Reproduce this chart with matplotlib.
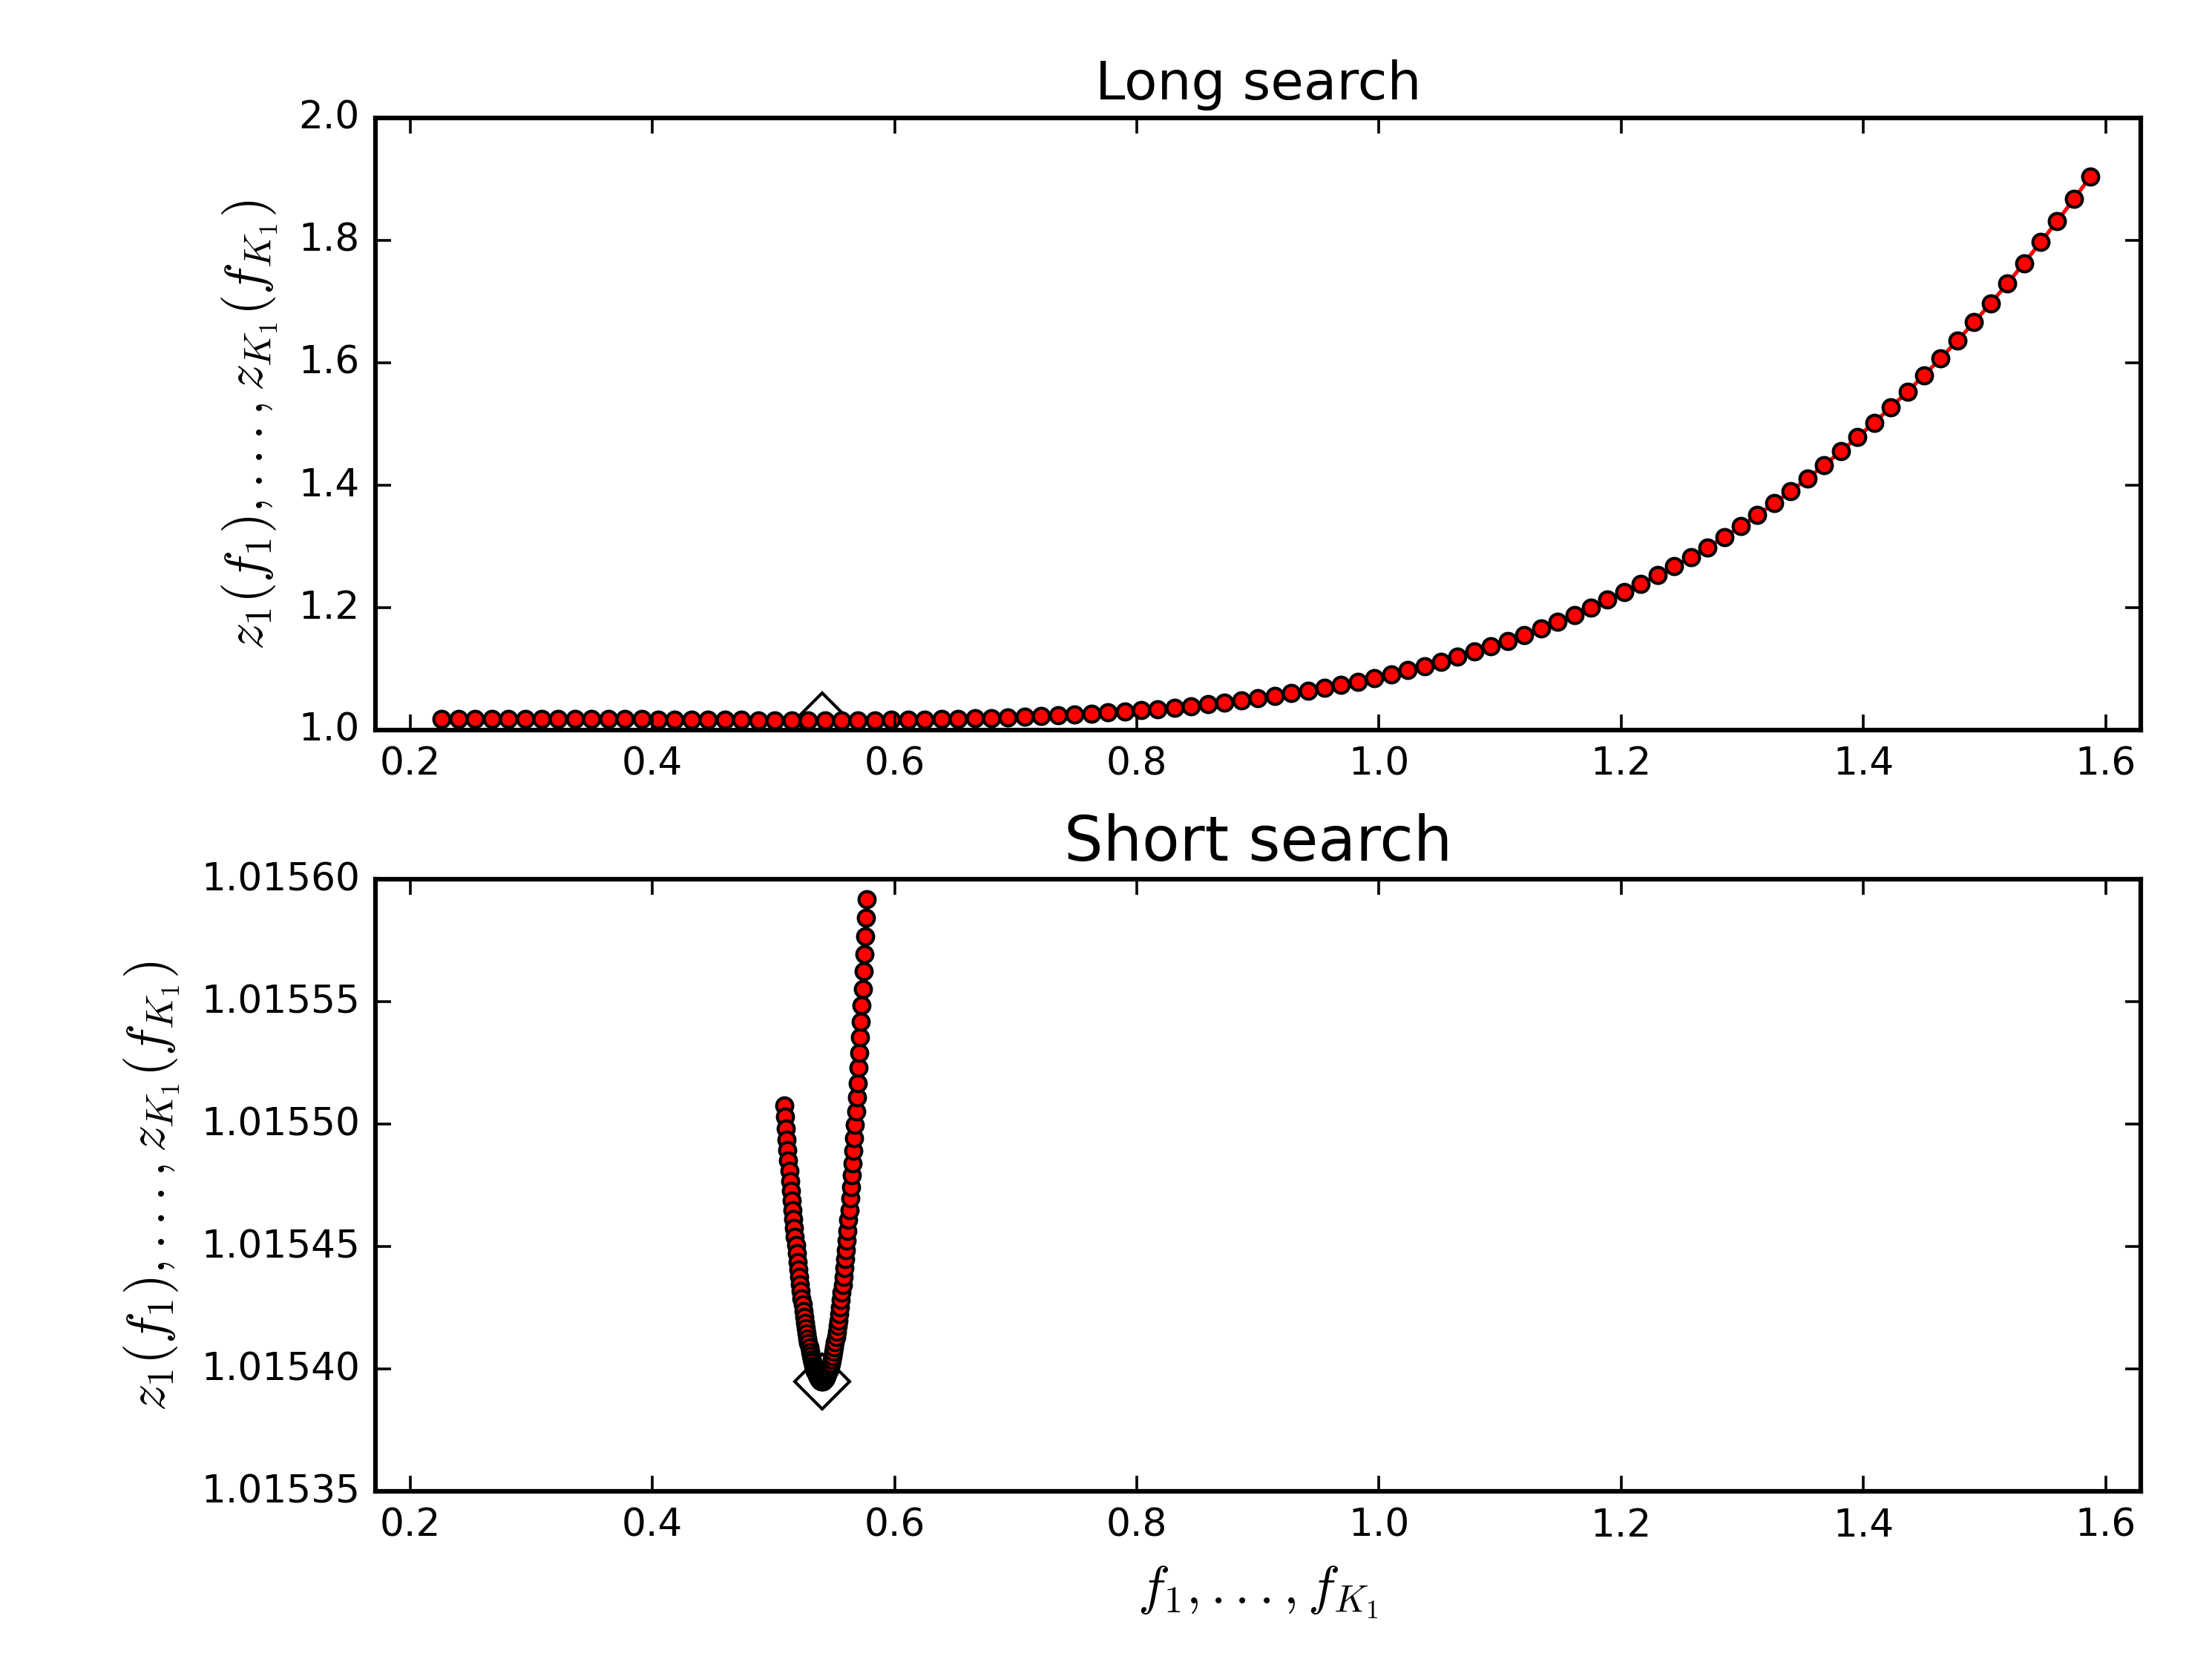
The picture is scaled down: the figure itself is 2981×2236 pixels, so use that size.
import matplotlib
matplotlib.use("Agg")
import matplotlib.pyplot as plt
from matplotlib.ticker import FormatStrFormatter

plt.style.use('classic')

# long search: frequency grid and values
long_f = [0.2260, 0.2398, 0.2535, 0.2673, 0.2810, 0.2948, 0.3085, 0.3223, 0.3360, 0.3498,
          0.3635, 0.3773, 0.3910, 0.4048, 0.4185, 0.4323, 0.4460, 0.4598, 0.4736, 0.4873,
          0.5011, 0.5148, 0.5286, 0.5423, 0.5561, 0.5698, 0.5836, 0.5973, 0.6111, 0.6248,
          0.6386, 0.6523, 0.6661, 0.6798, 0.6936, 0.7074, 0.7211, 0.7349, 0.7486, 0.7624,
          0.7761, 0.7899, 0.8036, 0.8174, 0.8311, 0.8449, 0.8586, 0.8724, 0.8861, 0.8999,
          0.9137, 0.9274, 0.9412, 0.9549, 0.9687, 0.9824, 0.9962, 1.0099, 1.0237, 1.0374,
          1.0512, 1.0649, 1.0787, 1.0924, 1.1062, 1.1199, 1.1337, 1.1475, 1.1612, 1.1750,
          1.1887, 1.2025, 1.2162, 1.2300, 1.2437, 1.2575, 1.2712, 1.2850, 1.2987, 1.3125,
          1.3262, 1.3400, 1.3538, 1.3675, 1.3813, 1.3950, 1.4088, 1.4225, 1.4363, 1.4500,
          1.4638, 1.4775, 1.4913, 1.5050, 1.5188, 1.5325, 1.5463, 1.5600, 1.5738, 1.5875]
long_z = [1.0180, 1.0180, 1.0179, 1.0179, 1.0178, 1.0177, 1.0177, 1.0176, 1.0175, 1.0174,
          1.0173, 1.0171, 1.0170, 1.0168, 1.0166, 1.0164, 1.0162, 1.0160, 1.0158, 1.0157,
          1.0156, 1.0155, 1.0154, 1.0154, 1.0154, 1.0155, 1.0157, 1.0159, 1.0162, 1.0166,
          1.0170, 1.0176, 1.0183, 1.0190, 1.0199, 1.0209, 1.0221, 1.0233, 1.0247, 1.0263,
          1.0280, 1.0298, 1.0318, 1.0339, 1.0362, 1.0388, 1.0417, 1.0448, 1.0481, 1.0517,
          1.0555, 1.0595, 1.0637, 1.0683, 1.0733, 1.0787, 1.0845, 1.0907, 1.0972, 1.1041,
          1.1114, 1.1192, 1.1274, 1.1361, 1.1452, 1.1548, 1.1651, 1.1760, 1.1875, 1.1996,
          1.2123, 1.2254, 1.2388, 1.2527, 1.2672, 1.2822, 1.2979, 1.3147, 1.3323, 1.3507,
          1.3699, 1.3899, 1.4107, 1.4323, 1.4547, 1.4779, 1.5019, 1.5267, 1.5525, 1.5793,
          1.6071, 1.6359, 1.6657, 1.6967, 1.7289, 1.7623, 1.7966, 1.8313, 1.8672, 1.9042]

# short search around the minimum
short_f = [0.50880, 0.50949, 0.51018, 0.51087, 0.51156, 0.51224, 0.51293, 0.51362, 0.51431, 0.51500,
           0.51569, 0.51638, 0.51707, 0.51776, 0.51845, 0.51914, 0.51982, 0.52051, 0.52120, 0.52189,
           0.52258, 0.52327, 0.52396, 0.52465, 0.52534, 0.52603, 0.52671, 0.52740, 0.52809, 0.52878,
           0.52947, 0.53016, 0.53085, 0.53154, 0.53223, 0.53292, 0.53360, 0.53429, 0.53498, 0.53567,
           0.53636, 0.53705, 0.53774, 0.53843, 0.53912, 0.53981, 0.54049, 0.54118, 0.54187, 0.54256,
           0.54325, 0.54394, 0.54463, 0.54532, 0.54601, 0.54670, 0.54738, 0.54807, 0.54876, 0.54945,
           0.55014, 0.55083, 0.55152, 0.55221, 0.55290, 0.55359, 0.55427, 0.55496, 0.55565, 0.55634,
           0.55703, 0.55772, 0.55841, 0.55910, 0.55979, 0.56048, 0.56116, 0.56185, 0.56254, 0.56323,
           0.56392, 0.56461, 0.56530, 0.56599, 0.56668, 0.56737, 0.56805, 0.56874, 0.56943, 0.57012,
           0.57081, 0.57150, 0.57219, 0.57288, 0.57357, 0.57426, 0.57494, 0.57563, 0.57632, 0.57701]
short_z = [1.0155076, 1.0155029, 1.0154983, 1.0154938, 1.0154895, 1.0154851, 1.0154809, 1.0154768, 1.0154727, 1.0154688,
           1.0154650, 1.0154612, 1.0154575, 1.0154539, 1.0154505, 1.0154472, 1.0154438, 1.0154407, 1.0154376, 1.0154347,
           1.0154317, 1.0154289, 1.0154263, 1.0154237, 1.0154213, 1.0154189, 1.0154166, 1.0154145, 1.0154125, 1.0154105,
           1.0154087, 1.0154070, 1.0154054, 1.0154040, 1.0154026, 1.0154013, 1.0154001, 1.0153992, 1.0153982, 1.0153974,
           1.0153967, 1.0153961, 1.0153957, 1.0153953, 1.0153951, 1.0153950, 1.0153950, 1.0153952, 1.0153955, 1.0153959,
           1.0153964, 1.0153970, 1.0153978, 1.0153987, 1.0153998, 1.0154009, 1.0154022, 1.0154037, 1.0154052, 1.0154069,
           1.0154088, 1.0154108, 1.0154129, 1.0154151, 1.0154175, 1.0154198, 1.0154225, 1.0154252, 1.0154281, 1.0154312,
           1.0154344, 1.0154377, 1.0154411, 1.0154448, 1.0154486, 1.0154524, 1.0154565, 1.0154608, 1.0154650, 1.0154696,
           1.0154743, 1.0154790, 1.0154840, 1.0154890, 1.0154943, 1.0154997, 1.0155052, 1.0155110, 1.0155168, 1.0155229,
           1.0155290, 1.0155354, 1.0155418, 1.0155485, 1.0155553, 1.0155623, 1.0155694, 1.0155767, 1.0155842, 1.0155918]

# minimum found
best_f = [0.5400]
best_z_long = [1.0154]
best_z_short = [1.015395]

long_yticks = [1.0, 1.2, 1.4, 1.6, 1.8, 2.0]
short_yticks = [1.01535, 1.01540, 1.01545, 1.01550, 1.01555, 1.01560]
xticks = [0.2, 0.4, 0.6, 0.8, 1.0, 1.2, 1.4, 1.6]

ylab = r'$z_1(f_1),...,z_{K_1}(f_{K_1})$'
xlab = r'$f_1,...,f_{K_1}$'

fig = plt.figure(figsize=(8, 6.0033), dpi=372.625, facecolor='white')
ax1 = fig.add_axes([0.1696, 0.5599, 0.7982, 0.3687])
ax2 = fig.add_axes([0.1696, 0.1010, 0.7982, 0.3688])

for ax, f, z, bz, yt, fmt, title, tsize in [
        (ax1, long_f, long_z, best_z_long, long_yticks, '%.1f', 'Long search', 14),
        (ax2, short_f, short_z, best_z_short, short_yticks, '%.5f', 'Short search', 16)]:
    ax.plot(best_f, bz, 'D', ms=10, mfc='white', mec='black', mew=0.8, zorder=1.5)
    ax.plot(f, z, 'o-', color='red', lw=1, ms=4.2, mfc='red', mec='black', mew=0.8, zorder=2)
    ax.set_xlim(0.171, 1.629)
    ax.set_ylim(yt[0], yt[-1])
    ax.set_xticks(xticks)
    ax.set_yticks(yt)
    ax.yaxis.set_major_formatter(FormatStrFormatter(fmt))
    ax.xaxis.set_major_formatter(FormatStrFormatter('%.1f'))
    ax.tick_params(labelsize=10, direction='in', top=True, right=True, length=4, width=0.7)
    for s in ax.spines.values():
        s.set_linewidth(1.2)
    ax.set_title(title, fontsize=tsize)
    ax.set_ylabel(ylab, fontsize=14)

ax2.set_xlabel(xlab, fontsize=14)

fig.savefig('out.png', dpi=372.625, facecolor='white')
